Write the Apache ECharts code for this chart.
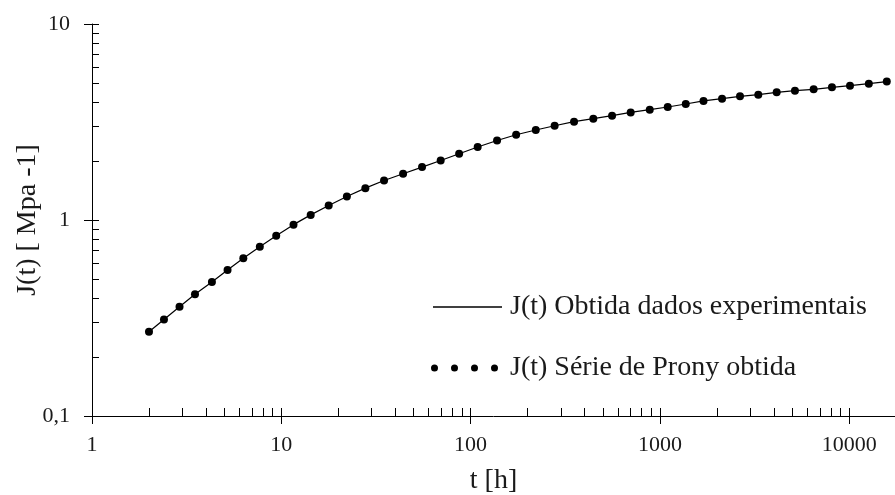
<!DOCTYPE html>
<html>
<head>
<meta charset="utf-8">
<script src="https://cdn.jsdelivr.net/npm/echarts@6/dist/echarts.min.js"></script>
<style>
html,body{margin:0;padding:0;background:#fff;}
#chart{width:895px;height:495px;}
</style>
</head>
<body>
<div id="chart"></div>
<script>
// ---- data ----
var tHours = [2.0, 2.4, 2.9, 3.5, 4.3, 5.2, 6.3, 7.7, 9.4, 11.6, 14.3, 17.8, 22.2, 27.8, 34.9, 44, 55.4, 69.5, 87, 109, 138, 174, 221, 278, 352, 445, 559, 701, 884, 1100, 1370, 1700, 2130, 2650, 3310, 4140, 5170, 6490, 8110, 10100, 12700, 15800];
var jExperimental = [0.269, 0.311, 0.361, 0.418, 0.483, 0.556, 0.638, 0.731, 0.832, 0.947, 1.062, 1.185, 1.317, 1.454, 1.590, 1.721, 1.862, 2.012, 2.178, 2.356, 2.546, 2.723, 2.878, 3.027, 3.173, 3.287, 3.405, 3.540, 3.654, 3.772, 3.908, 4.049, 4.160, 4.274, 4.360, 4.479, 4.571, 4.642, 4.752, 4.848, 4.963, 5.082];
var jProny = [0.269, 0.311, 0.361, 0.418, 0.483, 0.556, 0.638, 0.731, 0.832, 0.947, 1.062, 1.185, 1.317, 1.454, 1.590, 1.721, 1.862, 2.012, 2.178, 2.356, 2.546, 2.723, 2.878, 3.027, 3.173, 3.287, 3.405, 3.540, 3.654, 3.772, 3.908, 4.049, 4.160, 4.274, 4.360, 4.479, 4.571, 4.642, 4.752, 4.848, 4.963, 5.082];
var xMajorTicks = [1, 10, 100, 1000, 10000];
var xMinorTicks = [2,3,4,5,6,7,8,9,20,30,40,50,60,70,80,90,200,300,400,500,600,700,800,900,2000,3000,4000,5000,6000,7000,8000,9000];
var yMajorTicks = [0.1, 1, 10];
var yMinorTicks = [0.2,0.3,0.4,0.5,0.6,0.7,0.8,0.9,2,3,4,5,6,7,8,9];
var seriesNames = ['J(t) Obtida dados experimentais', 'J(t) Série de Prony obtida'];
var xTitle = 't [h]';
var yTitle = 'J(t) [ Mpa -1]';
var xMin = 1, xMax = 17460, yMin = 0.1, yMax = 10;

// ---- chart ----
var FONT = "'Liberation Serif', 'Times New Roman', serif";
var TXT = '#1a1a1a';
function zip(a, b) { return a.map(function (v, i) { return [v, b[i]]; }); }
function fmt(v) { return String(v).replace('.', ','); }
var dotsIcon = 'path://M0,3.5a3.5,3.5 0 1,0 7,0a3.5,3.5 0 1,0 -7,0Z' +
  'M20,3.5a3.5,3.5 0 1,0 7,0a3.5,3.5 0 1,0 -7,0Z' +
  'M40,3.5a3.5,3.5 0 1,0 7,0a3.5,3.5 0 1,0 -7,0Z' +
  'M60,3.5a3.5,3.5 0 1,0 7,0a3.5,3.5 0 1,0 -7,0Z';

var chart = echarts.init(document.getElementById('chart'), null, {renderer: 'canvas'});
var option = {
  animation: false,
  backgroundColor: '#fff',
  grid: {left: 92, right: 0, top: 24, bottom: 79, containLabel: false, outerBoundsMode: 'none'},
  legend: [
    {
      data: [{name: seriesNames[0], icon: 'rect'}], left: 433, top: 293, padding: 0,
      itemWidth: 69, itemHeight: 1.4,
      itemStyle: {color: '#000', opacity: 1, borderWidth: 0},
      textStyle: {fontFamily: FONT, fontSize: 28, color: TXT, padding: [0, 0, 0, 3]}
    },
    {
      data: [{name: seriesNames[1], icon: dotsIcon}], left: 431, top: 354, padding: 0,
      itemWidth: 67, itemHeight: 7,
      itemStyle: {color: '#000', opacity: 1},
      textStyle: {fontFamily: FONT, fontSize: 28, color: TXT, padding: [0, 0, 0, 7]}
    }
  ],
  xAxis: [
    {
      type: 'log', logBase: 10, min: xMin, max: xMax, position: 'bottom',
      name: xTitle, nameLocation: 'middle', nameGap: 51, nameMoveOverlap: false,
      nameTextStyle: {fontFamily: FONT, fontSize: 28, color: TXT},
      axisLine: {show: true, lineStyle: {color: '#000', width: 1}},
      axisTick: {show: true, inside: false, length: 8, customValues: xMajorTicks, lineStyle: {color: '#000'}},
      axisLabel: {show: true, margin: 18, customValues: xMajorTicks, fontFamily: FONT, fontSize: 22, color: TXT, formatter: fmt},
      splitLine: {show: false}
    },
    {
      type: 'log', logBase: 10, min: xMin, max: xMax, position: 'bottom', offset: 0,
      axisLine: {show: false},
      axisTick: {show: true, inside: true, length: 8, customValues: xMajorTicks.concat(xMinorTicks), lineStyle: {color: '#000'}},
      axisLabel: {show: false},
      splitLine: {show: false}
    }
  ],
  yAxis: [
    {
      type: 'log', logBase: 10, min: yMin, max: yMax, position: 'left',
      name: yTitle, nameLocation: 'middle', nameGap: 50, nameMoveOverlap: false,
      nameTextStyle: {fontFamily: FONT, fontSize: 28, color: TXT},
      axisLine: {show: true, lineStyle: {color: '#000', width: 1}},
      axisTick: {show: true, inside: false, length: 8, customValues: yMajorTicks, lineStyle: {color: '#000'}},
      axisLabel: {show: true, margin: 22, customValues: yMajorTicks, fontFamily: FONT, fontSize: 22, color: TXT, formatter: fmt},
      splitLine: {show: false}
    },
    {
      type: 'log', logBase: 10, min: yMin, max: yMax, position: 'left', offset: 0,
      axisLine: {show: false},
      axisTick: {show: true, inside: true, length: 7, customValues: yMajorTicks.concat(yMinorTicks), lineStyle: {color: '#000'}},
      axisLabel: {show: false},
      splitLine: {show: false}
    }
  ],
  series: [
    {
      name: seriesNames[0], type: 'line', xAxisIndex: 0, yAxisIndex: 0,
      data: zip(tHours, jExperimental),
      symbol: 'none', smooth: false,
      lineStyle: {color: '#000', width: 1.2},
      itemStyle: {color: '#000'},
      z: 2
    },
    {
      name: seriesNames[1], type: 'scatter', xAxisIndex: 0, yAxisIndex: 0,
      data: zip(tHours, jProny),
      symbol: 'circle', symbolSize: 8,
      itemStyle: {color: '#000', opacity: 1},
      z: 3
    }
  ]
};
chart.setOption(option);
</script>
</body>
</html>
